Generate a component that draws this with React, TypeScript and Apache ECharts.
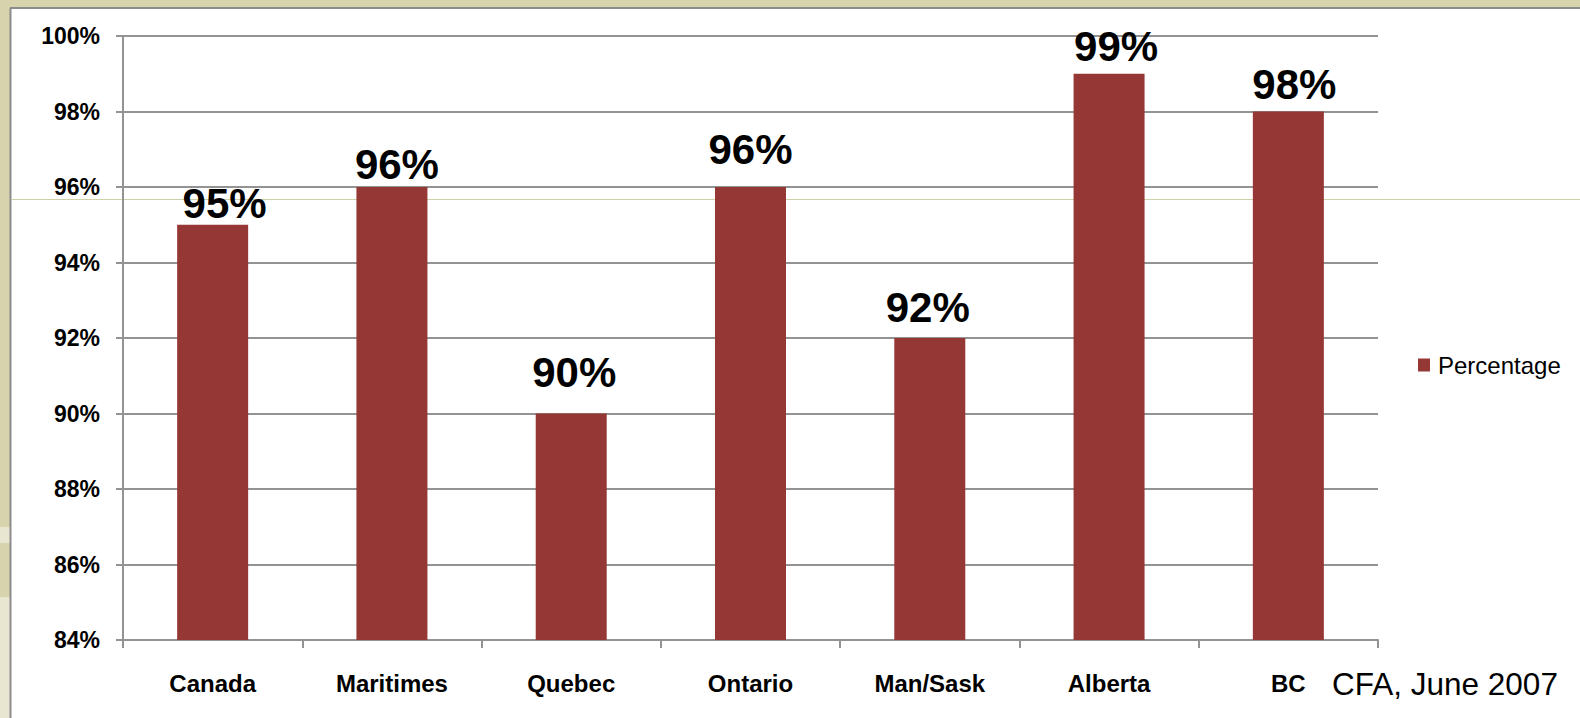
import React, { useEffect, useRef } from "react";
import * as echarts from "echarts";

const categories = ["Canada", "Maritimes", "Quebec", "Ontario", "Man/Sask", "Alberta", "BC"];
const percentages = [95, 96, 90, 96, 92, 99, 98];
const seriesName = "Percentage";
const sourceNote = "CFA, June 2007";
// per-bar label nudges (style only)
const labelDx = [12, 5, 3, 0, -2, 7, 6];
const labelDist = [0, 2, 20, 17, 10, 6, 6];

const FONT = 'Arial, "Liberation Sans", sans-serif';
const BAR = "#953735";
const GRID = "#939393";

export default function App() {
  const ref = useRef<HTMLDivElement>(null);
  useEffect(() => {
    document.body.style.margin = "0";
    const chart = echarts.init(ref.current!, null, { renderer: "svg" });
    chart.setOption({
      animation: false,
      backgroundColor: "#ffffff",
      textStyle: { fontFamily: FONT },
      grid: { left: 123, right: 202, top: 36, bottom: 78, containLabel: false },
      legend: {
        show: true,
        data: [seriesName],
        left: 1418,
        top: 353,
        padding: 0,
        icon: "rect",
        itemWidth: 12,
        itemHeight: 13,
        textStyle: { fontFamily: FONT, fontSize: 24, color: "#000", padding: [0, 0, 0, 3] },
      },
      xAxis: {
        type: "category",
        data: categories,
        boundaryGap: true,
        axisLine: { show: true, lineStyle: { color: GRID, width: 2 } },
        axisTick: { show: true, length: 8, inside: false, alignWithLabel: false, lineStyle: { color: GRID, width: 2 } },
        axisLabel: { fontFamily: FONT, fontSize: 24, fontWeight: "bold", color: "#000", margin: 31, interval: 0 },
      },
      yAxis: {
        type: "value",
        min: 84,
        max: 100,
        interval: 2,
        axisLine: { show: true, lineStyle: { color: GRID, width: 2 } },
        axisTick: { show: true, length: 7, inside: false, lineStyle: { color: GRID, width: 2 } },
        axisLabel: { fontFamily: FONT, fontSize: 23, fontWeight: "bold", color: "#000", margin: 23, formatter: "{value}%" },
        splitLine: { show: true, lineStyle: { color: GRID, width: 2 } },
      },
      graphic: [
        { type: "rect", z: -100, silent: true, shape: { x: 0, y: 0, width: 1580, height: 8 }, style: { fill: "#d7d3ad" } },
        { type: "rect", z: -100, silent: true, shape: { x: 0, y: 0, width: 10, height: 718 }, style: { fill: "#d7d3ad" } },
        { type: "rect", z: -99, silent: true, shape: { x: 0, y: 527, width: 10, height: 16 }, style: { fill: "#e8e6d1" } },
        { type: "rect", z: -99, silent: true, shape: { x: 0, y: 597, width: 10, height: 121 }, style: { fill: "#e8e6d1" } },
        { type: "line", z: -98, silent: true, shape: { x1: 10, y1: 8, x2: 1580, y2: 8 }, style: { stroke: "#8c8c8c", lineWidth: 2 } },
        { type: "line", z: -98, silent: true, shape: { x1: 10.5, y1: 8, x2: 10.5, y2: 718 }, style: { stroke: "#8c8c8c", lineWidth: 2 } },
        { type: "line", z: -97, silent: true, shape: { x1: 11, y1: 199.5, x2: 1580, y2: 199.5 }, style: { stroke: "#cfd0a8", lineWidth: 1 } },
        {
          type: "text",
          z: 10,
          left: 1332,
          top: 668,
          style: { text: sourceNote, fontFamily: FONT, fontSize: 31.5, fill: "#000" },
        },
      ],
      series: [
        {
          name: seriesName,
          type: "bar",
          barWidth: 71,
          itemStyle: { color: BAR },
          data: percentages.map((v, i) => ({
            value: v,
            label: { distance: labelDist[i], offset: [labelDx[i], 0] },
          })),
          label: {
            show: true,
            position: "top",
            formatter: "{c}%",
            fontFamily: FONT,
            fontSize: 42,
            fontWeight: "bold",
            color: "#000",
          },
        },
      ],
    });
    return () => chart.dispose();
  }, []);
  return <div ref={ref} style={{ width: 1580, height: 718 }} />;
}
